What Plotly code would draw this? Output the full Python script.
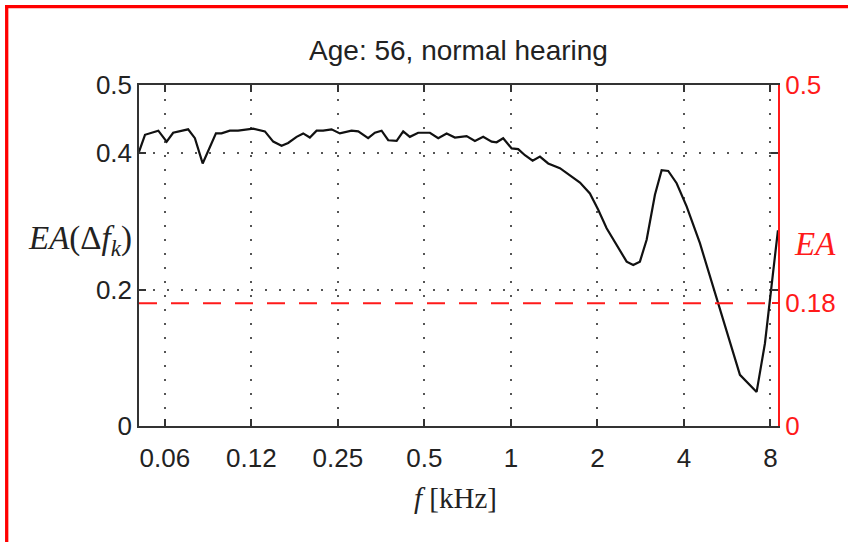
import math
import plotly.graph_objects as go

# ---- data ----
freq_khz = [0.0508, 0.0533, 0.0593, 0.0634, 0.0668, 0.0753, 0.0795, 0.0846, 0.0941, 0.0984,
            0.1052, 0.1124, 0.1268, 0.1393, 0.1489, 0.1592, 0.1678, 0.1796, 0.1893, 0.1997,
            0.2108, 0.2222, 0.2376, 0.2540, 0.2789, 0.2943, 0.3186, 0.3363, 0.3548, 0.3742,
            0.4003, 0.4219, 0.4450, 0.4757, 0.5226, 0.5586, 0.5975, 0.6386, 0.7012, 0.7495,
            0.801, 0.857, 0.892, 0.940, 1.006, 1.060, 1.119, 1.190, 1.262, 1.348,
            1.481, 1.604, 1.739, 1.883, 2.013, 2.153, 2.333, 2.528, 2.665, 2.811,
            2.967, 3.171, 3.346, 3.527, 3.773, 4.087, 4.547, 5.059, 5.633, 6.266,
            7.162, 7.654, 8.496]
ea_values = [0.402, 0.427, 0.433, 0.417, 0.430, 0.435, 0.422, 0.385, 0.429, 0.429,
             0.433, 0.433, 0.436, 0.432, 0.417, 0.411, 0.415, 0.424, 0.429, 0.423,
             0.433, 0.433, 0.435, 0.429, 0.433, 0.432, 0.422, 0.430, 0.433, 0.419,
             0.418, 0.432, 0.424, 0.430, 0.430, 0.422, 0.429, 0.423, 0.425, 0.418,
             0.424, 0.417, 0.416, 0.422, 0.407, 0.406, 0.397, 0.389, 0.395, 0.385,
             0.378, 0.367, 0.357, 0.341, 0.317, 0.290, 0.265, 0.241, 0.236, 0.241,
             0.273, 0.339, 0.375, 0.374, 0.356, 0.322, 0.268, 0.204, 0.136, 0.075,
             0.050, 0.121, 0.287]
threshold = 0.18

x_tick_vals = [0.0625, 0.125, 0.25, 0.5, 1, 2, 4, 8]
x_tick_text = ["0.06", "0.12", "0.25", "0.5", "1", "2", "4", "8"]
y_left_ticks = [0, 0.2, 0.4, 0.5]
y_left_text = ["0", "0.2", "0.4", "0.5"]
y_right_ticks = [0, 0.18, 0.5]
y_right_text = ["0", "0.18", "0.5"]

x_range = [math.log10(0.0508), math.log10(8.5)]

SANS = "Liberation Sans, Arial, sans-serif"
SERIF = "Liberation Serif, Times New Roman, serif"
RED = "#ff1a1a"
FRAME = "#333333"
GRID = "#555555"
TXT = "#222222"

fig = go.Figure()
fig.add_trace(go.Scatter(x=freq_khz, y=ea_values, mode="lines",
                         line=dict(color="#111111", width=2.2), showlegend=False,
                         hoverinfo="skip"))
# invisible trace to activate right axis
fig.add_trace(go.Scatter(x=[freq_khz[0]], y=[threshold], yaxis="y2", mode="markers",
                         marker=dict(opacity=0), showlegend=False, hoverinfo="skip"))

fig.add_hline(y=threshold, line=dict(color=RED, width=2, dash="18px,14px"))

fig.update_layout(
    width=848, height=542,
    margin=dict(l=139, r=70, t=85, b=116),
    paper_bgcolor="white", plot_bgcolor="white",
    font=dict(family=SANS, size=26, color=TXT),
    title=dict(text="Age: 56, normal hearing", x=0.5, xanchor="center",
               xref="paper", y=1 - 50 / 542, yref="container", yanchor="middle",
               font=dict(family=SANS, size=28, color=TXT)),
    xaxis=dict(type="log", range=x_range, tickvals=x_tick_vals, ticktext=x_tick_text,
               ticks="inside", ticklen=7, tickwidth=1.5, tickcolor=FRAME,
               showline=True, linecolor=FRAME, linewidth=1.5, mirror="ticks",
               showgrid=True, gridcolor=GRID, gridwidth=2, griddash="2px,12px",
               zeroline=False, tickfont=dict(size=26), ticklabelstandoff=8),
    yaxis=dict(range=[0, 0.5], tickvals=y_left_ticks, ticktext=y_left_text,
               ticks="inside", ticklen=7, tickwidth=1.5, tickcolor=FRAME,
               showline=True, linecolor=FRAME, linewidth=1.5, mirror="ticks",
               showgrid=True, gridcolor=GRID, gridwidth=2, griddash="2px,12px",
               zeroline=False, tickfont=dict(size=26)),
    yaxis2=dict(range=[0, 0.5], overlaying="y", side="right",
                tickvals=y_right_ticks, ticktext=y_right_text,
                ticks="inside", ticklen=6, tickwidth=1.5, tickcolor=RED,
                showline=True, linecolor=RED, linewidth=2,
                showgrid=False, zeroline=False,
                tickfont=dict(size=26, color=RED)),
)

# axis labels
fig.add_annotation(text="<i>EA</i>(Δ<i>f</i><sub><i>k</i></sub>)", xref="paper", yref="paper",
                   x=(134 - 139) / 639, y=(426 - 240) / 341, xanchor="right", yanchor="middle",
                   showarrow=False, font=dict(family=SERIF, size=33, color=TXT))
fig.add_annotation(text="<i>EA</i>", xref="paper", yref="paper",
                   x=(815 - 139) / 639, y=(426 - 244) / 341, xanchor="center", yanchor="middle",
                   showarrow=False, font=dict(family=SERIF, size=33, color=RED))
fig.add_annotation(text="<i>f</i> [kHz]", xref="paper", yref="paper",
                   x=(455 - 139) / 639, y=(426 - 498) / 341, xanchor="center", yanchor="middle",
                   showarrow=False, font=dict(family=SERIF, size=29, color=TXT))

# red frame lines around the picture (top and left)
px = lambda v: (v - 139) / 639
py = lambda v: (426 - v) / 341
fig.add_shape(type="line", xref="paper", yref="paper", x0=px(5), x1=px(848), y0=py(6.7), y1=py(6.7),
              line=dict(color="#ff0000", width=3.3))
fig.add_shape(type="line", xref="paper", yref="paper", x0=px(6.7), x1=px(6.7), y0=py(5), y1=py(542),
              line=dict(color="#ff0000", width=3.3))

fig.write_html("out.html")
